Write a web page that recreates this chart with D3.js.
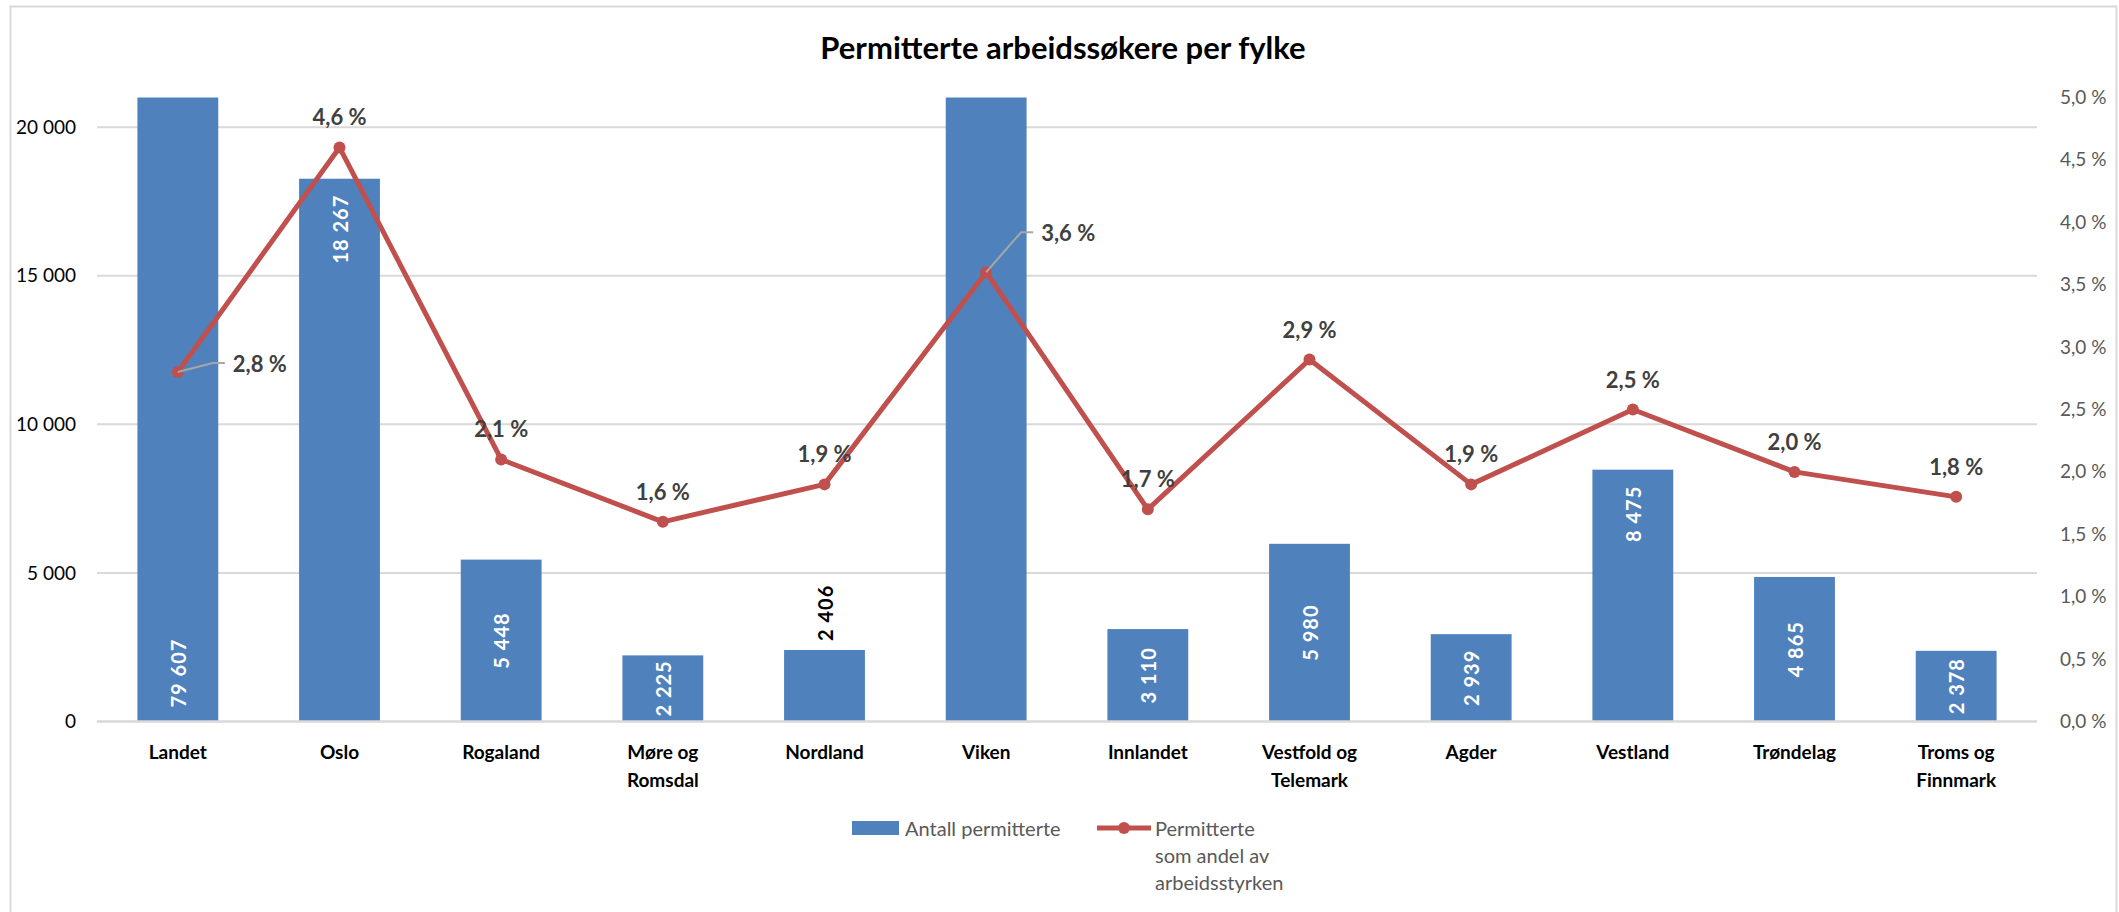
<!DOCTYPE html>
<html>
<head>
<meta charset="utf-8">
<script src="https://cdn.jsdelivr.net/npm/d3@7"></script>
<style>
  body { margin: 0; background: #fff; }
  text { font-family: Lato, "Open Sans", sans-serif; }
</style>
</head>
<body>
<svg id="chart"></svg>
<script>
// Data
const fylker = ['Landet', 'Oslo', 'Rogaland', 'Møre og|Romsdal', 'Nordland', 'Viken',
  'Innlandet', 'Vestfold og|Telemark', 'Agder', 'Vestland', 'Trøndelag', 'Troms og|Finnmark'];
const antall = [79607, 18267, 5448, 2225, 2406, 23514, 3110, 5980, 2939, 8475, 4865, 2378];
const andel = [2.8, 4.6, 2.1, 1.6, 1.9, 3.6, 1.7, 2.9, 1.9, 2.5, 2.0, 1.8];
const leftTicks = [0, 5000, 10000, 15000, 20000];
const rightTicks = [0, 0.5, 1, 1.5, 2, 2.5, 3, 3.5, 4, 4.5, 5];

// where each bar label sits (as in the original workbook)
const labelPlacement = ['base', 'end', 'center', 'center', 'outside', 'none',
  'center', 'center', 'center', 'end', 'center', 'center'];
// labels moved by hand, with a leader line
const pctNudge = { 0: [55, -9], 5: [55, -40] };

const W = 2119, H = 912;
const margin = { top: 97.5, right: 82, bottom: 190.5, left: 97 };
const width = W - margin.left - margin.right;
const height = H - margin.top - margin.bottom;

const fmtNum = d => d3.format(',')(d).replace(/,/g, ' ');
const fmtPct = d => d.toFixed(1).replace('.', ',') + ' %';

const svg = d3.select('#chart').attr('width', W).attr('height', H);

// frame
svg.append('rect').attr('x', 10.5).attr('y', 6.5).attr('width', 2106).attr('height', 912)
  .attr('fill', 'none').attr('stroke', '#d9d9d9').attr('stroke-width', 2);

svg.append('text').attr('x', 1063).attr('y', 59).attr('text-anchor', 'middle')
  .style('font-size', '31px').style('font-weight', 'bold').attr('fill', '#000')
  .text('Permitterte arbeidssøkere per fylke');

const chart = svg.append('g').attr('transform', `translate(${margin.left},${margin.top})`);

const x = d3.scaleBand().domain(fylker).range([0, width]).paddingInner(0.5).paddingOuter(0.25);
const y = d3.scaleLinear().domain([0, 21000]).range([height, 0]);
const y2 = d3.scaleLinear().domain([0, 5]).range([height, 0]);
const cx = d => x(d) + x.bandwidth() / 2;

// gridlines
chart.append('g').selectAll('line').data(leftTicks.filter(d => d > 0)).join('line')
  .attr('x1', 0).attr('x2', width).attr('y1', d => y(d)).attr('y2', d => y(d))
  .attr('stroke', '#d9d9d9').attr('stroke-width', 2);

// left axis
const yAxis = d3.axisLeft(y).tickValues(leftTicks).tickSize(0).tickPadding(21).tickFormat(fmtNum);
chart.append('g').call(yAxis).call(g => g.select('.domain').remove())
  .selectAll('text').style('font-size', '19px').attr('fill', '#000');

// right axis
const yAxis2 = d3.axisRight(y2).tickValues(rightTicks).tickSize(0).tickPadding(23).tickFormat(fmtPct);
chart.append('g').attr('transform', `translate(${width},0)`).call(yAxis2)
  .call(g => g.select('.domain').remove())
  .selectAll('text').style('font-size', '19px').attr('fill', '#595959');

// bars
chart.append('g').selectAll('rect').data(fylker).join('rect')
  .attr('x', d => x(d)).attr('width', x.bandwidth())
  .attr('y', (d, i) => y(Math.min(antall[i], 21000)))
  .attr('height', (d, i) => height - y(Math.min(antall[i], 21000)))
  .attr('fill', '#4f81bd');

// x axis line
chart.append('line').attr('x1', 0).attr('x2', width).attr('y1', height).attr('y2', height)
  .attr('stroke', '#d9d9d9').attr('stroke-width', 2.5);

// category labels
const xLab = chart.append('g').selectAll('text').data(fylker).join('text')
  .attr('text-anchor', 'middle').style('font-size', '19px').style('font-weight', 'bold')
  .attr('fill', '#000');
xLab.each(function (d) {
  const parts = d.split('|');
  parts.forEach((p, k) => {
    d3.select(this).append('tspan').attr('x', cx(d)).attr('y', height + 37 + k * 28).text(p);
  });
});

// bar value labels, rotated
chart.append('g').selectAll('text').data(fylker.filter((d, i) => labelPlacement[i] !== 'none')).join('text')
  .each(function (d) {
    const i = fylker.indexOf(d);
    const place = labelPlacement[i];
    const top = y(Math.min(antall[i], 21000));
    let ty, anchor = 'start', fill = '#fff';
    if (place === 'base') { ty = height - 14; }
    else if (place === 'end') { ty = top + 16; anchor = 'end'; }
    else if (place === 'center') { ty = (top + height) / 2; anchor = 'middle'; }
    else { ty = top - 9; fill = '#000'; }
    d3.select(this).attr('transform', `translate(${cx(d)},${ty}) rotate(-90)`)
      .attr('text-anchor', anchor).attr('dominant-baseline', 'central')
      .style('font-size', '20px').style('font-weight', 'bold').style('letter-spacing', '1px')
      .attr('fill', fill).text(fmtNum(antall[i]));
  });

// line
const line = d3.line().x((d, i) => cx(fylker[i])).y(d => y2(d));
chart.append('path').datum(andel).attr('d', line).attr('fill', 'none')
  .attr('stroke', '#c0504d').attr('stroke-width', 5).attr('stroke-linejoin', 'round');
chart.append('g').selectAll('circle').data(andel).join('circle')
  .attr('cx', (d, i) => cx(fylker[i])).attr('cy', d => y2(d)).attr('r', 6).attr('fill', '#c0504d');

// leader lines for nudged labels
Object.keys(pctNudge).forEach(k => {
  const i = +k, px = cx(fylker[i]), py = y2(andel[i]);
  const lx = px + pctNudge[k][0], ly = py + pctNudge[k][1];
  chart.append('polyline')
    .attr('points', `${px},${py} ${lx - 20},${ly} ${lx - 8},${ly}`)
    .attr('fill', 'none').attr('stroke', '#a6a6a6').attr('stroke-width', 2);
});

// percent labels
chart.append('g').selectAll('text').data(andel).join('text')
  .style('font-size', '22px').style('font-weight', 'bold').attr('fill', '#404040')
  .each(function (d, i) {
    const px = cx(fylker[i]), py = y2(d);
    const t = d3.select(this).text(fmtPct(d));
    if (pctNudge[i]) {
      t.attr('x', px + pctNudge[i][0]).attr('y', py + pctNudge[i][1])
        .attr('dominant-baseline', 'central');
    } else {
      t.attr('x', px).attr('y', py - 22).attr('text-anchor', 'middle');
    }
  });

// legend
const leg = svg.append('g').style('font-size', '20px').attr('fill', '#595959');
leg.append('rect').attr('x', 852).attr('y', 821).attr('width', 47).attr('height', 14).attr('fill', '#4f81bd');
leg.append('text').attr('x', 905).attr('y', 828).attr('dominant-baseline', 'central')
  .attr('fill', '#595959').text('Antall permitterte');
leg.append('line').attr('x1', 1097).attr('x2', 1151).attr('y1', 828).attr('y2', 828)
  .attr('stroke', '#c0504d').attr('stroke-width', 5);
leg.append('circle').attr('cx', 1124).attr('cy', 828).attr('r', 6).attr('fill', '#c0504d');
['Permitterte', 'som andel av', 'arbeidsstyrken'].forEach((s, k) => {
  leg.append('text').attr('x', 1155).attr('y', 828 + k * 27).attr('dominant-baseline', 'central')
    .attr('fill', '#595959').text(s);
});
</script>
</body>
</html>
